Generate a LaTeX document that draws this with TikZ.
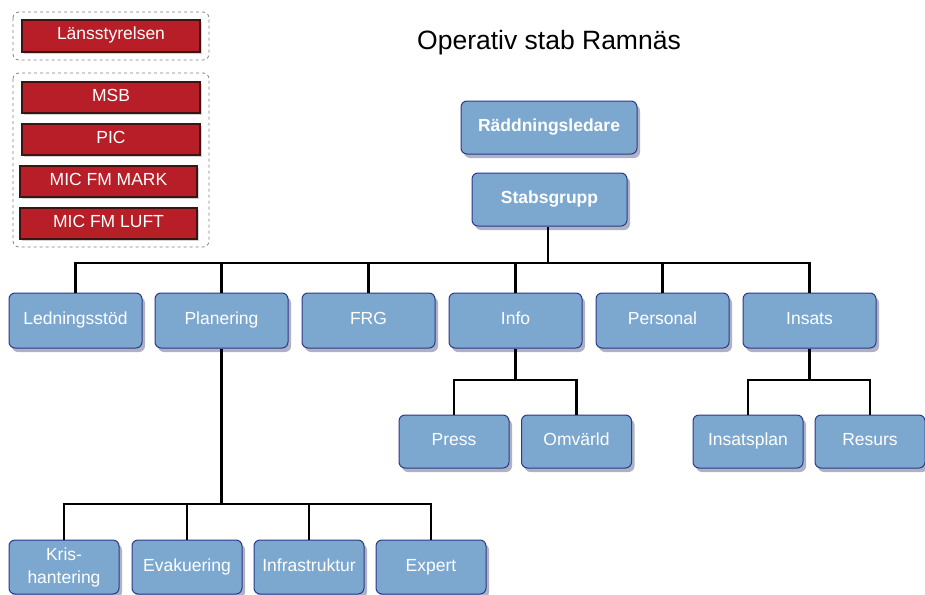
\documentclass[tikz,border=0pt]{standalone}
\usepackage{fontspec}
\setmainfont{Liberation Sans}
\usetikzlibrary{shadows}
\definecolor{boxblue}{RGB}{124,168,208}
\definecolor{boxedge}{RGB}{45,55,140}
\definecolor{boxred}{RGB}{183,30,40}
\definecolor{rededge}{RGB}{60,20,20}
\tikzset{
  bluebox/.style={draw=boxedge, line width=1pt, fill=boxblue, rounded corners=6pt,
    text=white, font=\fontsize{17.5}{23}\selectfont, align=center, inner sep=0pt,
    text height=0.88em, text depth=0pt,
    drop shadow={shadow xshift=3pt, shadow yshift=-4pt, opacity=0.35, fill=boxedge!60!black}},
  redbox/.style={draw=rededge, line width=1.2pt, fill=boxred, text=white,
    font=\fontsize{17.5}{20}\selectfont, inner sep=0pt,
    text height=0.8em, text depth=0pt,
    drop shadow={shadow xshift=2pt, shadow yshift=-2pt, opacity=0.35}},
  grp/.style={draw=gray, dashed, line width=0.8pt, rounded corners=6pt},
  conn/.style={line width=2.2pt, black},
}
\begin{document}
\begin{tikzpicture}[x=1pt,y=-1pt]
\useasboundingbox (0,0) rectangle (925,594);
% groups
\draw[grp] (13,12) rectangle (209,60);
\draw[grp] (13,73) rectangle (209,247);
% red boxes
\node[redbox, minimum width=178pt, minimum height=32pt] (lans) at (111,36) {Länsstyrelsen};
\node[redbox, minimum width=178pt, minimum height=31pt] (msb) at (111,97.5) {MSB};
\node[redbox, minimum width=178pt, minimum height=31pt] (pic) at (111,139.5) {PIC};
\node[redbox, minimum width=177pt, minimum height=31pt] (mark) at (108.5,181.5) {MIC FM MARK};
\node[redbox, minimum width=177pt, minimum height=31pt] (luft) at (108.5,223.5) {MIC FM LUFT};
% title
\node[font=\fontsize{26.5}{28}\selectfont, text=black] (title) at (549,43) {Operativ stab Ramnäs};
% top
\node[bluebox, font=\bfseries\fontsize{17.5}{20}\selectfont, minimum width=176pt, minimum height=53pt] (rl) at (549,127.5) {Räddningsledare};
\node[bluebox, font=\bfseries\fontsize{17.5}{20}\selectfont, minimum width=155pt, minimum height=53pt] (stab) at (549.5,199.5) {Stabsgrupp};
% row 2
\foreach \n/\t/\x in {led/Ledningsstöd/75.5, plan/Planering/221.5, frg/FRG/368.5, info/Info/515.5, pers/Personal/662.5, ins/Insats/809.5}
  \node[bluebox, minimum width=133pt, minimum height=55pt] (\n) at (\x,320.5) {\t};
% row 3
\foreach \n/\t/\x in {press/Press/454, omv/Omvärld/576.5, iplan/Insatsplan/748, res/Resurs/870}
  \node[bluebox, minimum width=110pt, minimum height=53pt] (\n) at (\x,441.5) {\t};
% row 4
\node[bluebox, text height={}, text depth={}, minimum width=110pt, minimum height=54pt] (kris) at (64,567) {Kris-\\hantering};
\foreach \n/\t/\x in {evak/Evakuering/187, infra/Infrastruktur/309, exp/Expert/431}
  \node[bluebox, minimum width=110pt, minimum height=54pt] (\n) at (\x,567) {\t};
% connectors
\coordinate (bus1) at (548,263);
\draw[conn] (stab.south -| bus1) -- (bus1);
\foreach \n in {led,plan,frg,info,pers,ins}
  \draw[conn] (bus1) -| (\n.north);
\coordinate (bus2) at (515.5,380);
\draw[conn] (info.south) -- (bus2);
\foreach \n in {press,omv} \draw[conn] (bus2) -| (\n.north);
\coordinate (bus3) at (809.5,380);
\draw[conn] (ins.south) -- (bus3);
\foreach \n in {iplan,res} \draw[conn] (bus3) -| (\n.north);
\coordinate (bus4) at (221.5,504);
\draw[conn] (plan.south) -- (bus4);
\foreach \n in {kris,evak,infra,exp} \draw[conn] (bus4) -| (\n.north);
\end{tikzpicture}
\end{document}
